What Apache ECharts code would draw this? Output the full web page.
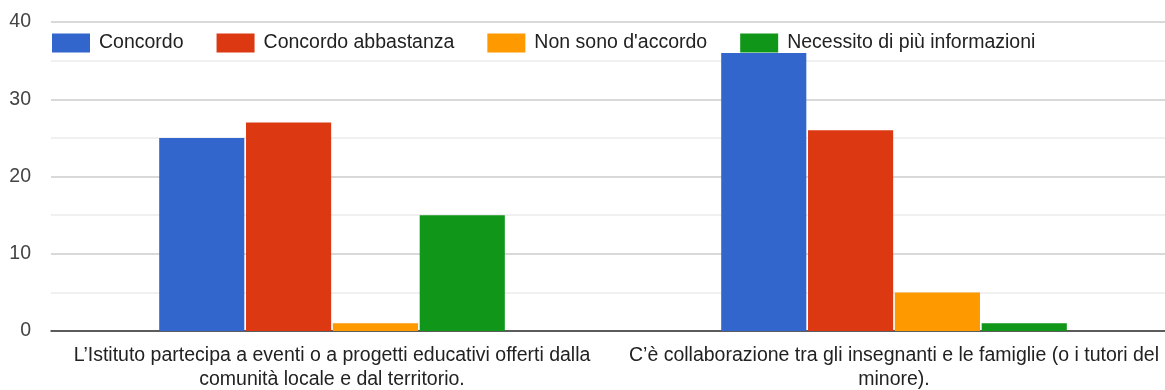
<!DOCTYPE html>
<html><head><meta charset="utf-8">
<script src="https://cdn.jsdelivr.net/npm/echarts@6/dist/echarts.min.js"></script>
<style>html,body{margin:0;padding:0;background:#fff}#c{width:1165px;height:390px}</style>
</head><body><div id="c"></div>
<script>
const categories = [
  "L’Istituto partecipa a eventi o a progetti educativi offerti dalla\ncomunità locale e dal territorio.",
  "C’è collaborazione tra gli insegnanti e le famiglie (o i tutori del\nminore)."
];
const seriesNames = ["Concordo", "Concordo abbastanza", "Non sono d'accordo", "Necessito di più informazioni"];
const concordo = [25, 36];
const concordoAbbastanza = [27, 26];
const nonSonoDAccordo = [1, 5];
const necessito = [15, 1];
const colors = ["#3366cc", "#dc3912", "#ff9900", "#109618"];
const values = [concordo, concordoAbbastanza, nonSonoDAccordo, necessito];
const FONT = 'Arial, "Liberation Sans", sans-serif';

const chart = echarts.init(document.getElementById('c'));
chart.setOption({
  animation: false,
  textStyle: { fontFamily: FONT },
  color: colors,
  legend: {
    left: 52, top: 32, padding: 0,
    itemWidth: 38, itemHeight: 19, itemGap: 33,
    icon: 'rect',
    textStyle: { fontSize: 19.5, color: '#222', fontFamily: FONT, padding: [3, 0, 0, 4], lineHeight: 19 },
    data: seriesNames
  },
  grid: { left: 51, width: 1124, top: 22, bottom: 59, containLabel: false, outerBoundsMode: 'none' },
  xAxis: {
    type: 'category',
    data: categories,
    axisTick: { show: false },
    axisLine: { lineStyle: { color: '#333', width: 1.5 } },
    axisLabel: { fontSize: 19.5, color: '#222', margin: 13, lineHeight: 24, interval: 0, fontFamily: FONT }
  },
  yAxis: {
    type: 'value', min: 0, max: 40, interval: 10,
    axisLabel: { fontSize: 19.5, color: '#444', margin: 20, fontFamily: FONT, padding: [2, 0, 0, 0] },
    splitLine: { lineStyle: { color: '#cccccc', width: 1.5 } },
    minorTick: { show: false, splitNumber: 2 },
    minorSplitLine: { show: true, lineStyle: { color: '#ebebeb', width: 1.5 } }
  },
  series: seriesNames.map((n, i) => ({
    name: n, type: 'bar', data: values[i],
    barCategoryGap: '38.5%', barGap: '2%',
    itemStyle: { color: colors[i] }
  }))
});
</script></body></html>
